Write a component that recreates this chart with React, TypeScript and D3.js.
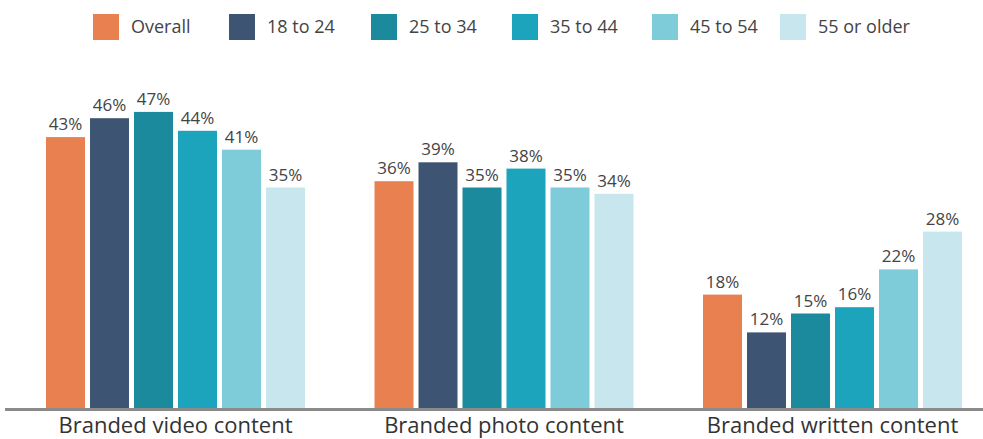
import React from "react";
import * as d3 from "d3";

const categories = ["Branded video content", "Branded photo content", "Branded written content"];
const seriesNames = ["Overall", "18 to 24", "25 to 34", "35 to 44", "45 to 54", "55 or older"];
const overall = [43, 36, 18];
const age18to24 = [46, 39, 12];
const age25to34 = [47, 35, 15];
const age35to44 = [44, 38, 16];
const age45to54 = [41, 35, 22];
const age55plus = [35, 34, 28];
const seriesValues = [overall, age18to24, age25to34, age35to44, age45to54, age55plus];
const colors = ["#E9804F", "#3E5473", "#1A8A9C", "#1BA4BC", "#7ECBDA", "#C8E6EE"];

const W = 983;
const H = 439;
const FONT = "'Open Sans', sans-serif";

export default function App() {
  const x0 = d3.scaleBand<string>().domain(categories).range([46, 962]).paddingInner(0.2116).paddingOuter(0);
  const x1 = d3.scaleBand<string>().domain(seriesNames).range([0, x0.bandwidth()]).paddingInner(0.1136).paddingOuter(0);
  const y = d3.scaleLinear().domain([0, 50]).range([408, 93]);
  const baseline = y(0);

  const legendX = [93, 229, 371, 512, 652, 780];

  return (
    <div style={{ position: "absolute", left: 0, top: 0, width: W, height: H, background: "#fff" }}>
      <svg width={W} height={H} style={{ display: "block" }}>
        <rect width={W} height={H} fill="#fff" />
        {seriesNames.map((s, i) => (
          <g key={s} transform={`translate(${legendX[i]},14)`}>
            <rect width={26} height={26} fill={colors[i]} />
            <text x={38} y={19} fontFamily={FONT} fontSize={18} fill="#444">{s}</text>
          </g>
        ))}
        {categories.map((c, ci) => (
          <g key={c} transform={`translate(${x0(c)},0)`}>
            {seriesNames.map((s, si) => {
              const v = seriesValues[si][ci];
              const bx = x1(s)!;
              return (
                <g key={s}>
                  <rect x={bx} y={y(v)} width={x1.bandwidth()} height={baseline - y(v)} fill={colors[si]} />
                  <text x={bx + x1.bandwidth() / 2} y={y(v) - 7} textAnchor="middle" fontFamily={FONT} fontSize={17} fill="#444">
                    {v}%
                  </text>
                </g>
              );
            })}
            <text x={x0.bandwidth() / 2} y={433} textAnchor="middle" fontFamily={FONT} fontSize={22} fill="#333">
              {c}
            </text>
          </g>
        ))}
        <line x1={5} x2={W} y1={baseline + 1.5} y2={baseline + 1.5} stroke="#8a8a8a" strokeWidth={3} />
      </svg>
    </div>
  );
}
